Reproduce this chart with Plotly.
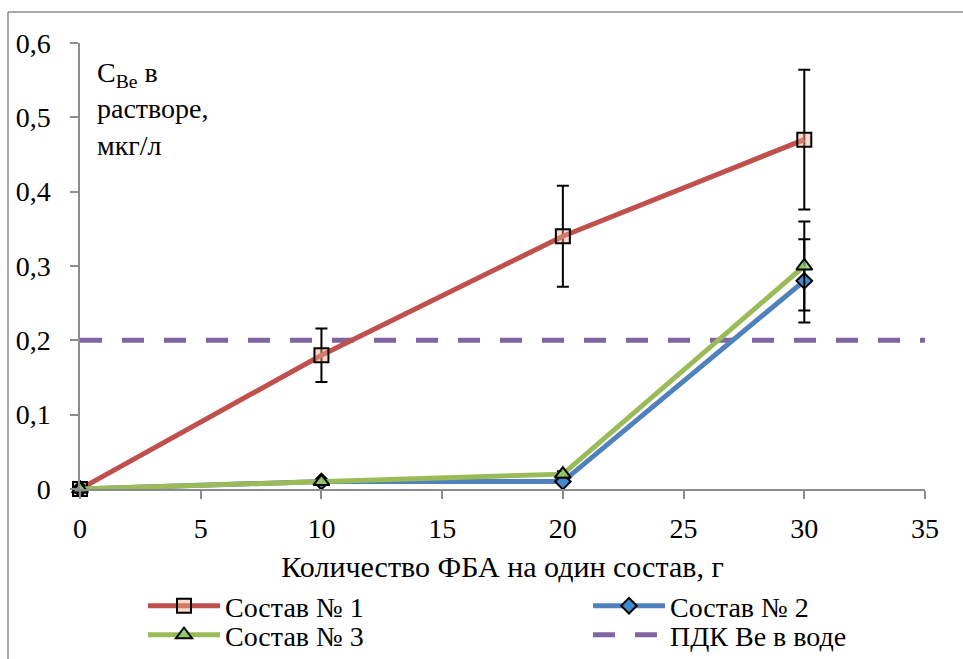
import plotly.graph_objects as go

# Amount of FBA per composition, g
x_amount = [0, 10, 20, 30]

# Be concentration in solution, ug/L
sostav_1 = [0, 0.18, 0.34, 0.47]
sostav_2 = [0, 0.01, 0.01, 0.28]
sostav_3 = [0, 0.01, 0.02, 0.30]

# Maximum permissible concentration of Be in water
pdk_x = [0, 35]
pdk_y = [0.2, 0.2]

error_percent = 20

series_names = ["Состав № 1", "Состав № 2", "Состав № 3", "ПДК Ве в воде"]
x_title = "Количество ФБА на один состав, г"
y_title = "C<sub>Be</sub> в<br>растворе,<br>мкг/л"

FONT = "Liberation Serif, Times New Roman, serif"
FS = 28
AXIS_GREY = "#8c8c8c"

# plot area in pixels: x 80..925, y 43..489
L, R, T, B = 80, 38, 43, 170
W, H = 963, 659
PW, PH = W - L - R, H - T - B


def px_x(px):
    return (px - L) / PW


def px_y(py):
    return (H - B - py) / PH


err = dict(type="percent", value=error_percent, color="black", thickness=2, width=6)

fig = go.Figure()

fig.add_trace(go.Scatter(
    x=pdk_x, y=pdk_y, mode="lines", name=series_names[3],
    line=dict(color="#8064A2", width=5, dash="22px,20px"),
    legend="legend4", cliponaxis=False,
))
fig.add_trace(go.Scatter(
    x=x_amount, y=sostav_1, mode="lines+markers", name=series_names[0],
    line=dict(color="#C0504D", width=5),
    marker=dict(symbol="square", size=14, color="rgba(240,170,140,0.45)",
                line=dict(color="black", width=2)),
    error_y=err, legend="legend", cliponaxis=False,
))
fig.add_trace(go.Scatter(
    x=x_amount, y=sostav_2, mode="lines+markers", name=series_names[1],
    line=dict(color="#4F81BD", width=5),
    marker=dict(symbol="diamond", size=12, color="#3F8AD0",
                line=dict(color="black", width=2)),
    error_y=err, legend="legend2", cliponaxis=False,
))
fig.add_trace(go.Scatter(
    x=x_amount, y=sostav_3, mode="lines+markers", name=series_names[2],
    line=dict(color="#9BBB59", width=5),
    marker=dict(symbol="triangle-up", size=14, color="rgba(140,200,110,0.75)",
                line=dict(color="black", width=2)),
    error_y=err, legend="legend3", cliponaxis=False,
))
for tr in fig.data:
    tr.showlegend = True

legend_common = dict(
    font=dict(family=FONT, size=FS, color="black"),
    bgcolor="rgba(0,0,0,0)", borderwidth=0,
    itemwidth=72, xanchor="left", yanchor="middle",
    orientation="v", visible=True,
)
col1, col2 = px_x(143), px_x(588)
row1, row2 = px_y(606), px_y(635)

fig.update_layout(
    width=W, height=H,
    margin=dict(l=L, r=R, t=T, b=B, autoexpand=False),
    paper_bgcolor="white", plot_bgcolor="white",
    separators=", ",
    showlegend=True,
    font=dict(family=FONT, size=FS, color="black"),
    xaxis=dict(
        range=[0, 35], dtick=5, tick0=0,
        showline=True, linecolor=AXIS_GREY, linewidth=1.5,
        ticks="outside", ticklen=8, tickwidth=1.5, tickcolor=AXIS_GREY,
        showgrid=False, zeroline=False,
        tickfont=dict(family=FONT, size=FS, color="black"),
        title=dict(text=x_title, font=dict(family=FONT, size=30, color="black"), standoff=13),
        automargin=False, ticklabelstandoff=6,
    ),
    yaxis=dict(
        range=[0, 0.6], dtick=0.1, tick0=0,
        showline=True, linecolor=AXIS_GREY, linewidth=1.5,
        ticks="outside", ticklen=8, tickwidth=1.5, tickcolor=AXIS_GREY,
        showgrid=False, zeroline=False,
        tickfont=dict(family=FONT, size=FS, color="black"),
        automargin=False, ticklabelstandoff=14,
    ),
    legend=dict(x=col1, y=row1, **legend_common),
    legend2=dict(x=col2, y=row1, **legend_common),
    legend3=dict(x=col1, y=row2, **legend_common),
    legend4=dict(x=col2, y=row2, **legend_common),
    annotations=[dict(
        text=y_title, xref="paper", yref="paper",
        x=px_x(95), y=px_y(55), xanchor="left", yanchor="top",
        align="left", showarrow=False,
        font=dict(family=FONT, size=FS, color="black"),
    )],
    shapes=[
        # outer chart frame (left and top edges)
        dict(type="line", xref="paper", yref="paper",
             x0=px_x(8), y0=px_y(12), x1=px_x(963), y1=px_y(12),
             line=dict(color=AXIS_GREY, width=1.5)),
        dict(type="line", xref="paper", yref="paper",
             x0=px_x(8), y0=px_y(12), x1=px_x(8), y1=px_y(659),
             line=dict(color=AXIS_GREY, width=1.5)),
    ],
)

fig.write_html("out.html")
